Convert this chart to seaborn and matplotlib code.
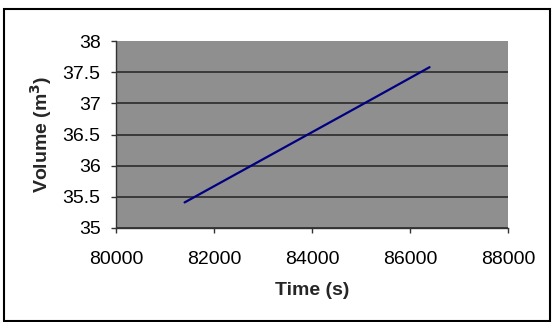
import matplotlib
matplotlib.use("Agg")
import matplotlib.pyplot as plt
import seaborn as sns
import pandas as pd
from matplotlib.patches import Rectangle

time_s = [81400, 82600, 83800, 85000, 86400]
volume_m3 = [35.41, 35.93, 36.45, 36.97, 37.58]
x_ticks = [80000, 82000, 84000, 86000, 88000]
y_ticks = [35, 35.5, 36, 36.5, 37, 37.5, 38]

df = pd.DataFrame({"Time": time_s, "Volume": volume_m3})

sns.set_theme(style="white")
plt.rcParams['font.family'] = ['Liberation Sans', 'DejaVu Sans']

fig = plt.figure(figsize=(5.57, 3.22), dpi=100)
L, R, T, B = 116, 508, 41, 228
ax = fig.add_axes([L/557, 1-B/322, (R-L)/557, (B-T)/322])
ax.set_facecolor("#8f8f8f")

sns.lineplot(data=df, x="Time", y="Volume", ax=ax, color="#000080", linewidth=1.6)

ax.set_xlim(80000, 88000)
ax.set_ylim(35, 38)
ax.set_xticks(x_ticks)
ax.set_yticks(y_ticks)
ax.set_xticklabels([str(v) for v in x_ticks], fontsize=14)
ax.set_yticklabels([f"{v:g}" for v in y_ticks], fontsize=14)
ax.yaxis.grid(True, color="#222222", linewidth=1.1)
ax.xaxis.grid(False)
ax.set_axisbelow(True)
for gl in ax.yaxis.get_gridlines()[-1:]:
    gl.set_visible(False)

for s in ["top", "right"]:
    ax.spines[s].set_visible(False)
for s in ["left", "bottom"]:
    ax.spines[s].set_color("#333333")
    ax.spines[s].set_linewidth(1.0)

ax.tick_params(axis="x", which="major", direction="out", length=3.6, width=1,
               color="#333333", bottom=True, pad=12.8, labelcolor="black")
ax.tick_params(axis="y", which="major", direction="out", length=3.6, width=1,
               color="#333333", left=True, pad=7.5, labelcolor="black")

ax.set_xlabel("Time (s)", fontsize=14, fontweight="bold", labelpad=10)
ax.set_ylabel("Volume (m$^\\mathbf{3}$)", fontsize=14, fontweight="bold", labelpad=6)

fig.patches.append(Rectangle((3.5/557, 1/322), (550-3.5)/557, (313-1)/322,
                             transform=fig.transFigure, fill=False,
                             edgecolor="black", linewidth=1.5))

fig.savefig("out.png", dpi=100)
